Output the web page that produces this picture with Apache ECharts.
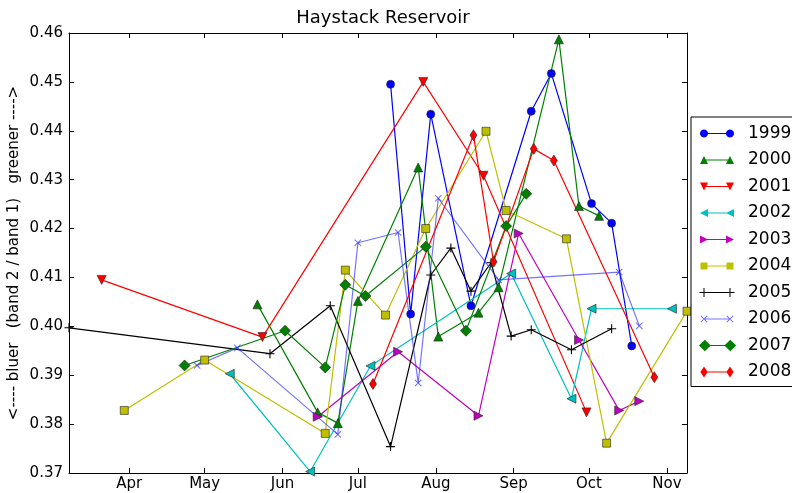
<!DOCTYPE html>
<html>
<head>
<meta charset="utf-8">
<script src="https://cdn.jsdelivr.net/npm/echarts@6/dist/echarts.min.js"></script>
<style>
html,body{margin:0;padding:0;background:#fff;}
#chart{width:792px;height:493px;}
</style>
</head>
<body>
<div id="chart"></div>
<script>
// ---------------- data ----------------
const title = 'Haystack Reservoir';
const yLabel = '<---- bluer   (band 2 / band 1)   greener ---->';
const monthLabels = ['Apr', 'May', 'Jun', 'Jul', 'Aug', 'Sep', 'Oct', 'Nov'];
const monthStarts = ['04-01', '05-01', '06-01', '07-01', '08-01', '09-01', '10-01', '11-01'];
const xRange = ['03-08', '11-09'];
const yTicks = [0.37, 0.38, 0.39, 0.40, 0.41, 0.42, 0.43, 0.44, 0.45, 0.46];

const years = ['1999', '2000', '2001', '2002', '2003', '2004', '2005', '2006', '2007', '2008'];

const d1999 = ['07-14', '07-22', '07-30', '08-15', '09-08', '09-16', '10-02', '10-10', '10-18'];
const v1999 = [0.4495, 0.4025, 0.4434, 0.4042, 0.4440, 0.4517, 0.4251, 0.4211, 0.3960];

const d2000 = ['05-22', '06-15', '06-23', '07-01', '07-25', '08-02', '08-18', '08-26', '09-19', '09-27', '10-05'];
const v2000 = [0.4045, 0.3824, 0.3802, 0.4052, 0.4325, 0.3979, 0.4028, 0.4080, 0.4587, 0.4246, 0.4226];

const d2001 = ['03-21', '05-24', '07-27', '08-20', '09-30'];
const v2001 = [0.4095, 0.3978, 0.4500, 0.4308, 0.3824];

const d2002 = ['05-11', '06-12', '07-06', '08-31', '09-24', '10-02', '11-03'];
const v2002 = [0.3903, 0.3703, 0.3919, 0.4108, 0.3852, 0.4036, 0.4036];

const d2003 = ['06-15', '07-17', '08-18', '09-03', '09-27', '10-13', '10-21'];
const v2003 = [0.3815, 0.3948, 0.3817, 0.4190, 0.3972, 0.3828, 0.3847];

const d2004 = ['03-30', '05-01', '06-18', '06-26', '07-12', '07-28', '08-21', '08-29', '09-22', '10-08', '11-09'];
const v2004 = [0.3828, 0.3931, 0.3781, 0.4115, 0.4023, 0.4200, 0.4399, 0.4237, 0.4179, 0.3761, 0.4031];

const d2005 = ['03-08', '05-27', '06-20', '07-14', '07-30', '08-07', '08-15', '08-23', '08-31', '09-08', '09-24', '10-10'];
const v2005 = [0.3997, 0.3944, 0.4042, 0.3754, 0.4105, 0.4160, 0.4072, 0.4130, 0.3980, 0.3993, 0.3952, 0.3995];

const d2006 = ['04-28', '05-14', '06-23', '07-01', '07-17', '07-25', '08-02', '08-26', '10-13', '10-21'];
const v2006 = [0.3920, 0.3956, 0.3779, 0.4171, 0.4192, 0.3884, 0.4262, 0.4095, 0.4111, 0.4001];

const d2007 = ['04-23', '06-02', '06-18', '06-26', '07-04', '07-28', '08-13', '08-29', '09-06'];
const v2007 = [0.3920, 0.3991, 0.3916, 0.4085, 0.4062, 0.4163, 0.3991, 0.4205, 0.4271];

const d2008 = ['07-07', '08-16', '08-24', '09-09', '09-17', '10-27'];
const v2008 = [0.3882, 0.4391, 0.4132, 0.4363, 0.4339, 0.3896];

const dates = [d1999, d2000, d2001, d2002, d2003, d2004, d2005, d2006, d2007, d2008];
const values = [v1999, v2000, v2001, v2002, v2003, v2004, v2005, v2006, v2007, v2008];

// ---------------- helpers ----------------
// day offset from April 1 (in a non-leap reference year)
function dayOf(md) {
  const [m, d] = md.split('-').map(Number);
  return (Date.UTC(2001, m - 1, d) - Date.UTC(2001, 3, 1)) / 86400000;
}
const monthDays = monthStarts.map(dayOf);

const FONT = 'DejaVu Sans';
const PLUS = 'path://M0,4.4L10,4.4L10,5.6L0,5.6Z M4.4,0L5.6,0L5.6,10L4.4,10Z';

// marker shapes (style only) for the legend icons, centred on 0,0
function circlePts(r) { const p = []; for (let i = 0; i < 24; i++) { const a = i / 24 * Math.PI * 2; p.push([r * Math.cos(a), r * Math.sin(a)]); } return p; }
function rot(pts, deg) { const a = deg * Math.PI / 180, c = Math.cos(a), s = Math.sin(a); return pts.map(([x, y]) => [x * c - y * s, x * s + y * c]); }
const triUp = [[0, -4], [4, 4], [-4, 4]];
const plusBars = [[[-4.5, -0.5], [4.5, -0.5], [4.5, 0.5], [-4.5, 0.5]], [[-0.5, -4.5], [0.5, -4.5], [0.5, 4.5], [-0.5, 4.5]]];
const legendMarks = [
  [circlePts(4)],
  [triUp],
  [rot(triUp, 180)],
  [rot(triUp, -90)],
  [rot(triUp, 90)],
  [[[-3.5, -3.5], [3.5, -3.5], [3.5, 3.5], [-3.5, 3.5]]],
  plusBars,
  plusBars.map(b => rot(b, 45)),
  [[[0, -6], [6, 0], [0, 6], [-6, 0]]],
  [[[0, -5.5], [3.6, 0], [0, 5.5], [-3.6, 0]]]
];
function poly(pts, cx, cy) {
  return 'M' + pts.map(([x, y]) => (x + cx).toFixed(2) + ',' + (y + cy).toFixed(2)).join('L') + 'Z';
}
function legendIcon(polys) {
  let s = 'M0,0L0.01,0L0,0.01Z M44,12L43.99,12L44,11.99Z ';
  s += poly([[0, -0.6], [26, -0.6], [26, 0.6], [0, 0.6]], 5, 6) + ' ';
  polys.forEach(p => { s += poly(p, 5, 6) + ' ' + poly(p, 31, 6) + ' '; });
  return 'path://' + s;
}

const styles = [
  { color: '#0000ff', symbol: 'circle', size: 8, rotate: 0, border: true },
  { color: '#008000', symbol: 'triangle', size: 9, rotate: 0, border: true },
  { color: '#ff0000', symbol: 'triangle', size: 9, rotate: 180, border: true },
  { color: '#00bfbf', symbol: 'triangle', size: 9, rotate: 90, border: true },
  { color: '#bf00bf', symbol: 'triangle', size: 9, rotate: -90, border: true },
  { color: '#bfbf00', symbol: 'rect', size: 8, rotate: 0, border: true },
  { color: '#000000', symbol: PLUS, size: 9, rotate: 0, border: false },
  { color: 'rgba(40,40,255,0.65)', symbol: PLUS, size: 9, rotate: 45, border: false },
  { color: '#008000', symbol: 'diamond', size: 11, rotate: 0, border: true },
  { color: '#ff0000', symbol: 'diamond', size: [7, 11], rotate: 0, border: true }
];

const series = years.map((y, i) => ({
  name: y,
  type: 'line',
  xAxisIndex: 0,
  yAxisIndex: 0,
  data: dates[i].map((d, k) => [dayOf(d), values[i][k]]),
  symbol: styles[i].symbol,
  symbolSize: styles[i].size,
  symbolRotate: styles[i].rotate,
  showSymbol: true,
  showAllSymbol: true,
  clip: true,
  lineStyle: { color: styles[i].color, width: 1.2 },
  itemStyle: {
    color: styles[i].color,
    borderColor: styles[i].border ? '#222' : 'transparent',
    borderWidth: styles[i].border ? 0.6 : 0
  },
  emphasis: { disabled: true },
  animation: false
}));

const axisText = { color: '#000', fontFamily: FONT, fontSize: 15 };
const tickStyle = { show: true, inside: true, length: 5, lineStyle: { color: '#000', width: 1 } };

const option = {
  animation: false,
  backgroundColor: '#fff',
  title: {
    text: title,
    left: 378,
    top: 4,
    textAlign: 'center',
    textStyle: { color: '#000', fontFamily: FONT, fontSize: 18, fontWeight: 'normal' }
  },
  grid: { left: 69, right: 105, top: 33, bottom: 20, containLabel: false, outerBoundsMode: 'none' },
  legend: {
    orient: 'vertical',
    left: 691,
    top: 117,
    padding: [8, 40, 6, 8],
    itemWidth: 44,
    itemHeight: 12,
    itemGap: 9.5,
    backgroundColor: '#fff',
    borderColor: '#000',
    borderWidth: 1,
    borderRadius: 0,
    itemStyle: { borderWidth: 0 },
    textStyle: { color: '#000', fontFamily: FONT, fontSize: 17, lineHeight: 17 },
    data: years.map((y, i) => ({ name: y, icon: legendIcon(legendMarks[i]) }))
  },
  xAxis: [
    {
      type: 'value',
      position: 'bottom',
      min: dayOf(xRange[0]),
      max: dayOf(xRange[1]),
      axisLine: { show: true, onZero: false, lineStyle: { color: '#000', width: 1 } },
      axisTick: Object.assign({ customValues: monthDays }, tickStyle),
      axisLabel: {
        customValues: monthDays,
        margin: 4,
        formatter: v => monthLabels[monthDays.indexOf(Math.round(v))] || '',
        ...axisText
      },
      splitLine: { show: false }
    },
    {
      type: 'value',
      position: 'top',
      min: dayOf(xRange[0]),
      max: dayOf(xRange[1]),
      axisLine: { show: true, onZero: false, lineStyle: { color: '#000', width: 1 } },
      axisTick: Object.assign({ customValues: monthDays }, tickStyle),
      axisLabel: { show: false },
      splitLine: { show: false }
    }
  ],
  yAxis: [
    {
      type: 'value',
      position: 'left',
      min: yTicks[0],
      max: yTicks[yTicks.length - 1],
      interval: 0.01,
      name: yLabel,
      nameLocation: 'middle',
      nameRotate: 90,
      nameGap: 47,
      nameMoveOverlap: false,
      nameTextStyle: { color: '#000', fontFamily: FONT, fontSize: 15 },
      axisLine: { show: true, onZero: false, lineStyle: { color: '#000', width: 1 } },
      axisTick: tickStyle,
      axisLabel: { margin: 6, formatter: v => v.toFixed(2), ...axisText },
      splitLine: { show: false }
    },
    {
      type: 'value',
      position: 'right',
      min: yTicks[0],
      max: yTicks[yTicks.length - 1],
      interval: 0.01,
      axisLine: { show: true, onZero: false, lineStyle: { color: '#000', width: 1 } },
      axisTick: tickStyle,
      axisLabel: { show: false },
      splitLine: { show: false }
    }
  ],
  series: series
};

const chart = echarts.init(document.getElementById('chart'), null, { renderer: 'canvas' });
chart.setOption(option);
</script>
</body>
</html>
